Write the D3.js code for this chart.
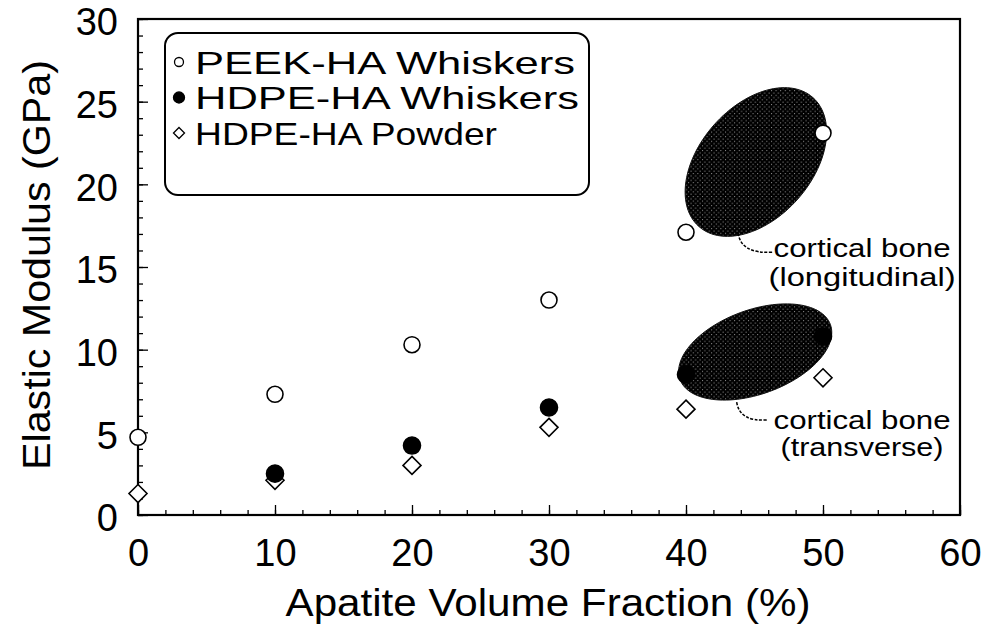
<!DOCTYPE html>
<html>
<head>
<meta charset="utf-8">
<script src="https://cdn.jsdelivr.net/npm/d3@7"></script>
<style>
  body { margin: 0; background: #fff; }
  svg text { font-family: "Liberation Sans", Arial, sans-serif; fill: #000; }
</style>
</head>
<body>
<div id="chart"></div>
<script>
// apatite volume fraction (%) and modulus values (GPa)
var fractions = [0, 10, 20, 30, 40, 50];
var peekWhiskers = [4.7, 7.3, 10.3, 13.0, 17.1, 23.1];
var hdpeWhiskers = [null, 2.5, 4.2, 6.5, 8.5, 10.8];
var hdpePowder = [1.3, 2.1, 3.0, 5.3, 6.4, 8.3];

var seriesNames = ["PEEK-HA Whiskers", "HDPE-HA Whiskers", "HDPE-HA Powder"];
var xTicks = [0, 10, 20, 30, 40, 50, 60];
var yTicks = [0, 5, 10, 15, 20, 25, 30];

// cortical bone ranges, as ellipses in data units (center, two conjugate half axes)
var boneNames = ["longitudinal", "transverse"];
var boneCenters = [[45.1, 21.35], [45.05, 9.86]];
var boneAxisU = [[4.16, 3.90], [5.49, 1.66]];
var boneAxisV = [[3.06, -2.24], [1.05, -2.39]];

var width = 995, height = 640;
var margin = {left: 138, right: 35, top: 19, bottom: 125};

var svg = d3.select("#chart").append("svg")
  .attr("width", width)
  .attr("height", height);

var x = d3.scaleLinear().domain([0, 60]).range([margin.left, width - margin.right]);
var y = d3.scaleLinear().domain([0, 30]).range([height - margin.bottom, margin.top]);

// halftone fill for the bone ellipses
var pat = svg.append("defs").append("pattern")
  .attr("id", "halftone")
  .attr("patternUnits", "userSpaceOnUse")
  .attr("width", 4.6).attr("height", 4.6);
pat.append("rect").attr("width", 4.6).attr("height", 4.6).attr("fill", "#000");
pat.append("circle").attr("cx", 1).attr("cy", 1).attr("r", 0.55).attr("fill", "#bbb");
pat.append("circle").attr("cx", 3.3).attr("cy", 3.3).attr("r", 0.55).attr("fill", "#bbb");

// ellipses
var ellipseLine = d3.line()
  .x(function(d) { return x(d[0]); })
  .y(function(d) { return y(d[1]); })
  .curve(d3.curveLinearClosed);

boneNames.forEach(function(name, i) {
  var pts = d3.range(0, 360, 3).map(function(a) {
    var t = a * Math.PI / 180;
    return [boneCenters[i][0] + boneAxisU[i][0] * Math.cos(t) + boneAxisV[i][0] * Math.sin(t),
            boneCenters[i][1] + boneAxisU[i][1] * Math.cos(t) + boneAxisV[i][1] * Math.sin(t)];
  });
  svg.append("path")
    .attr("d", ellipseLine(pts))
    .attr("fill", "url(#halftone)")
    .attr("stroke", "#111")
    .attr("stroke-width", 1);
});

// leader lines + labels (data units)
var leaderStart = [[43.8, 17.06], [43.7, 6.83]];
var leaderEnd = [[46.3, 15.9], [45.9, 5.75]];
var labelY = [[16.15, 14.4], [5.75, 4.11]];
var labelX = 52.85;
var line2Text = ["(longitudinal)", "(transverse)"];
var line2Len = [187, 163];

boneNames.forEach(function(name, i) {
  var x0 = x(leaderStart[i][0]), y0 = y(leaderStart[i][1]);
  var x1 = x(leaderEnd[i][0]), y1 = y(leaderEnd[i][1]);
  svg.append("path")
    .attr("d", "M" + x0 + "," + y0 + " Q" + (x0 + 3) + "," + (y1 + 2) + " " + x1 + "," + y1)
    .attr("fill", "none")
    .attr("stroke", "#000")
    .attr("stroke-width", 1.5)
    .attr("stroke-dasharray", "3,1.5");
  svg.append("text")
    .attr("x", x(labelX)).attr("y", y(labelY[i][0]))
    .attr("dy", "0.35em")
    .attr("text-anchor", "middle")
    .attr("font-size", 25)
    .attr("textLength", 177)
    .attr("lengthAdjust", "spacingAndGlyphs")
    .text("cortical bone");
  svg.append("text")
    .attr("x", x(labelX)).attr("y", y(labelY[i][1]))
    .attr("dy", "0.35em")
    .attr("text-anchor", "middle")
    .attr("font-size", 25)
    .attr("textLength", line2Len[i])
    .attr("lengthAdjust", "spacingAndGlyphs")
    .text(line2Text[i]);
});

// axes: major ticks with labels, minor ticks without
svg.append("g")
  .attr("transform", "translate(0," + y(0) + ")")
  .call(d3.axisBottom(x).tickValues(xTicks).tickSize(-10).tickPadding(24).tickFormat(d3.format("d")));
svg.append("g")
  .attr("transform", "translate(0," + y(0) + ")")
  .call(d3.axisBottom(x).tickValues(d3.range(0, 61, 2)).tickSize(-5).tickFormat(""));
svg.append("g")
  .attr("class", "yaxis")
  .attr("transform", "translate(" + x(0) + ",0)")
  .call(d3.axisLeft(y).tickValues(yTicks).tickSize(-10).tickPadding(20).tickFormat(d3.format("d")));
svg.append("g")
  .attr("transform", "translate(" + x(0) + ",0)")
  .call(d3.axisLeft(y).tickValues(d3.range(0, 31, 1)).tickSize(-5).tickFormat(""));

svg.selectAll(".domain").remove();
svg.selectAll(".tick line").attr("stroke", "#000").attr("stroke-width", 1.3);
svg.selectAll(".tick text").attr("font-size", 38).attr("font-family", "Liberation Sans, Arial, sans-serif");
svg.selectAll(".yaxis .tick text").attr("dy", "0.42em");

// frame
svg.append("rect")
  .attr("x", x(0)).attr("y", y(30))
  .attr("width", x(60) - x(0)).attr("height", y(0) - y(30))
  .attr("fill", "none")
  .attr("stroke", "#000")
  .attr("stroke-width", 2.2);

// axis titles
svg.append("text")
  .attr("x", (x(0) + x(60)) / 2 - 1).attr("y", 616)
  .attr("text-anchor", "middle")
  .attr("font-size", 38)
  .attr("textLength", 525)
  .attr("lengthAdjust", "spacingAndGlyphs")
  .text("Apatite Volume Fraction (%)");
svg.append("text")
  .attr("transform", "translate(50," + 265 + ") rotate(-90)")
  .attr("text-anchor", "middle")
  .attr("font-size", 38)
  .attr("textLength", 410)
  .attr("lengthAdjust", "spacingAndGlyphs")
  .text("Elastic Modulus (GPa)");

// markers
var diamond = function(cx, cy, r) {
  return "M" + cx + "," + (cy - r) + "L" + (cx + r) + "," + cy + "L" + cx + "," + (cy + r) + "L" + (cx - r) + "," + cy + "Z";
};

var pts = svg.append("g");
function drawSeries(values, kind) {
  var data = fractions.map(function(f, i) { return {x: f, y: values[i]}; })
    .filter(function(d) { return d.y != null; });
  if (kind == "diamond") {
    pts.selectAll(null).data(data).enter().append("path")
      .attr("d", function(d) { return diamond(x(d.x), y(d.y), 9); })
      .attr("fill", "#fff").attr("stroke", "#000").attr("stroke-width", 1.6);
  } else {
    pts.selectAll(null).data(data).enter().append("circle")
      .attr("cx", function(d) { return x(d.x); })
      .attr("cy", function(d) { return y(d.y); })
      .attr("r", kind == "filled" ? 8.5 : 8)
      .attr("fill", kind == "filled" ? "#000" : "#fff")
      .attr("stroke", "#000").attr("stroke-width", 1.6);
  }
}
drawSeries(hdpePowder, "diamond");
drawSeries(hdpeWhiskers, "filled");
drawSeries(peekWhiskers, "open");

// legend
var legend = svg.append("g");
legend.append("rect")
  .attr("x", 165).attr("y", 33)
  .attr("width", 424).attr("height", 162)
  .attr("rx", 13).attr("ry", 13)
  .attr("fill", "#fff")
  .attr("stroke", "#000")
  .attr("stroke-width", 2);
var kinds = ["open", "filled", "diamond"];
var legendLen = [380, 384, 302];
seriesNames.forEach(function(name, i) {
  var cy = 62 + i * 35.5, cx = 179;
  if (kinds[i] == "diamond") {
    legend.append("path").attr("d", diamond(cx, cy, 5.5))
      .attr("fill", "#fff").attr("stroke", "#000").attr("stroke-width", 1.3);
  } else {
    legend.append("circle").attr("cx", cx).attr("cy", cy)
      .attr("r", kinds[i] == "filled" ? 5.5 : 4.5)
      .attr("fill", kinds[i] == "filled" ? "#000" : "#fff")
      .attr("stroke", "#000").attr("stroke-width", 1.3);
  }
  legend.append("text")
    .attr("x", 195).attr("y", cy)
    .attr("dy", "0.36em")
    .attr("font-size", 32)
    .attr("textLength", legendLen[i])
    .attr("lengthAdjust", "spacingAndGlyphs")
    .text(name);
});
</script>
</body>
</html>
